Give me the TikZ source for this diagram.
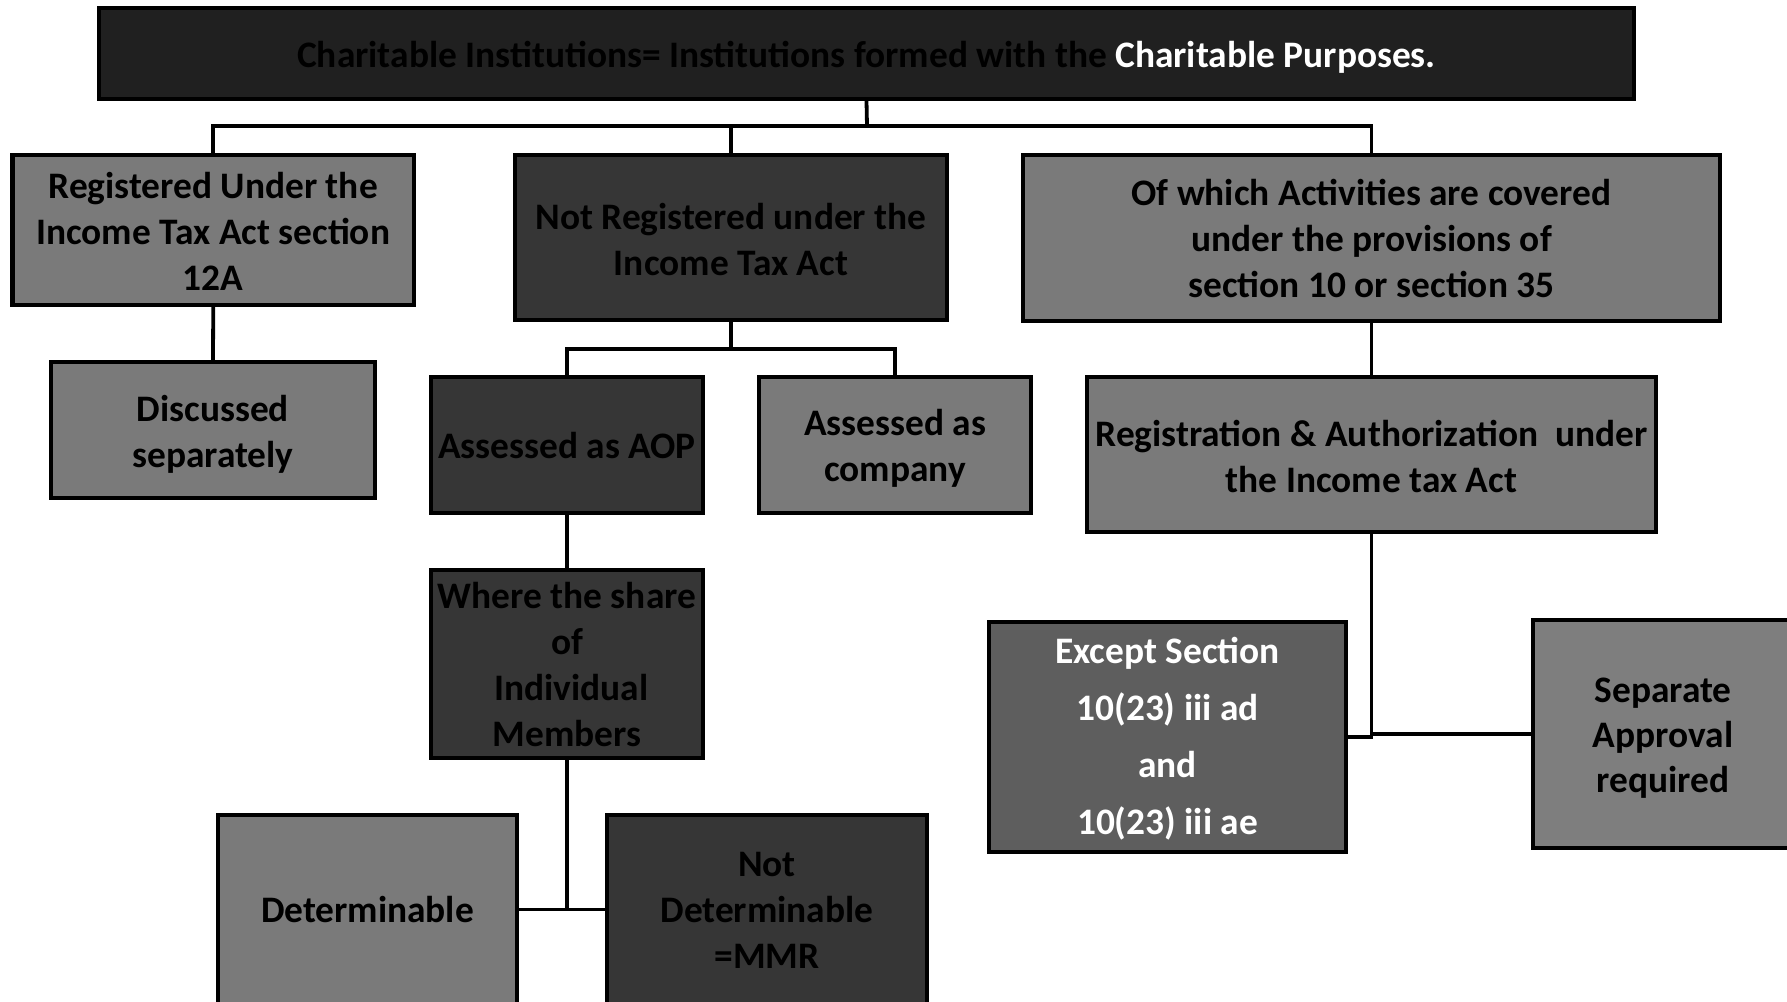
\documentclass[tikz,border=0pt]{standalone}
\usepackage{fontspec}
\setmainfont{Carlito}
\usetikzlibrary{fit}
\definecolor{gLight}{HTML}{7A7A7A}
\definecolor{gDark}{HTML}{363636}
\definecolor{gTop}{HTML}{202020}
\definecolor{gMid}{HTML}{5E5E5E}
\definecolor{gSep}{HTML}{7E7E7E}
\tikzset{
  box/.style={draw=black, line width=2.1pt, inner sep=0pt, align=center,
    font=\fontsize{18.7}{23}\selectfont\bfseries, text=black},
  light/.style={box, fill=gLight},
  dark/.style={box, fill=gDark},
  lbl/.style={font=\fontsize{18.7}{23}\selectfont\bfseries, align=center, text=black},
  conn/.style={line width=1.9pt, draw=black},
}
\begin{document}
\begin{tikzpicture}[x=0.5pt,y=-0.5pt]
\useasboundingbox (0,0) rectangle (1787,1001);
\fill[white] (0,0) rectangle (1787,1001);

\node[box, fill=gTop, fit={(99,8) (1634,99)}] (T) {};
\node[lbl, yshift=-2pt] at (T.center)
  {Charitable Institutions= Institutions formed with the \textcolor{white}{Charitable Purposes.}};

\node[light, fit={(12.5,155) (414,305)}] (A) {};
\node[lbl, yshift=-0.5pt] at (A.center)
  {Registered Under the\\Income Tax Act section\\12A};

\node[dark, fit={(515,155) (947,320)}] (B) {};
\node[lbl, yshift=-1pt] at (B.center)
  {Not Registered under the\\Income Tax Act};

\node[light, fit={(1023,155) (1720,321)}] (C) {};
\node[lbl] at (C.center)
  {Of which Activities are covered\\under the provisions of\\section 10 or section 35};

\node[light, fit={(51,362) (375,498)}] (D) {};
\node[lbl, yshift=-2pt] at (D.center)
  {Discussed\\separately};

\node[dark, fit={(431,377) (703,513)}] (E) {};
\node[lbl, yshift=-0.5pt] at (E.center)
  {Assessed as AOP};

\node[light, fit={(759,377) (1031,513)}] (F) {};
\node[lbl, yshift=-1.5pt] at (F.center)
  {Assessed as\\company};

\node[light, fit={(1087,377) (1656,532)}] (G) {};
\node[lbl, yshift=-1pt] at (G.center)
  {Registration \& Authorization\ \ under\\the Income tax Act};

\node[dark, fit={(431,570) (703,758)}] (H) {};
\node[lbl, yshift=-0.5pt] at (H.center)
  {Where the share\\of\\\ Individual\\Members};

\node[light, fit={(218,815) (517,1004)}] (I) {};
\node[lbl] at (I.center)
  {Determinable};

\node[dark, fit={(607,815) (927,1004)}] (J) {};
\node[lbl, yshift=-0.5pt] at (J.center)
  {Not\\Determinable\\=MMR};

\node[box, fill=gMid, fit={(989,622) (1346,852)}] (K) {};
\node[lbl, font=\fontsize{18.7}{28.5}\selectfont\bfseries, text=white, yshift=-1pt] at (K.center)
  {Except Section\\10(23) iii ad\\and\\10(23) iii ae};

\node[box, fill=gSep, fit={(1533,620) (1793,848)}] (L) {};
\node[lbl, font=\fontsize{18.7}{22.5}\selectfont\bfseries, yshift=-2pt] at (L.center)
  {Separate\\Approval\\required};

% connectors
\coordinate (tj) at (867,126);
\draw[conn] (T.south) -- (tj);
\draw[conn] (tj) -| (A.north);
\draw[conn] (tj) -| (B.north);
\draw[conn] (tj) -| (C.north);
\draw[conn] (A.south) -- (D.north);
\coordinate (bj) at (731,349);
\draw[conn] (B.south) -- (bj);
\draw[conn] (bj) -| (E.north);
\draw[conn] (bj) -| (F.north);
\draw[conn] (C.south) -- (G.north);
\draw[conn] (E.south) -- (H.north);
\draw[conn] (H.south) |- (I.east);
\draw[conn] (H.south) |- (J.west);
\draw[conn] (G.south) |- (K.east);
\draw[conn] (G.south) |- (L.west);
\end{tikzpicture}
\end{document}
